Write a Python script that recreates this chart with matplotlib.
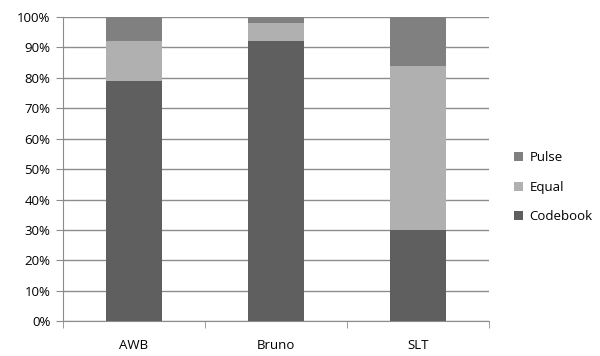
import numpy as np
import matplotlib
matplotlib.use("Agg")
import matplotlib.pyplot as plt
from matplotlib.ticker import FuncFormatter, MultipleLocator

categories = ["AWB", "Bruno", "SLT"]
codebook = [79, 92, 30]
equal = [13, 6, 54]
pulse = [8, 2, 16]

plt.rcParams['font.family'] = ['Open Sans', 'DejaVu Sans']

fig = plt.figure(figsize=(6, 3.56), dpi=100)
ax = fig.add_axes([0.105, 0.098, 0.71, 0.854])

x = np.arange(len(categories))
w = 0.39
b1 = ax.bar(x, codebook, w, color="#5f5f5f", label="Codebook", zorder=3)
b2 = ax.bar(x, equal, w, bottom=codebook, color="#b0b0b0", label="Equal", zorder=3)
bottom2 = np.array(codebook) + np.array(equal)
b3 = ax.bar(x, pulse, w, bottom=bottom2, color="#808080", label="Pulse", zorder=3)

ax.set_xlim(-0.5, len(categories) - 0.5)
ax.set_ylim(0, 100)
ax.yaxis.set_major_locator(MultipleLocator(10))
ax.yaxis.set_major_formatter(FuncFormatter(lambda v, p: f"{int(v)}%"))
ax.grid(axis="y", color="#8c8c8c", linewidth=1, zorder=0)

ax.set_xticks(x)
ax.set_xticklabels(categories)
ax.set_xticks(np.arange(len(categories) + 1) - 0.5, minor=True)
ax.tick_params(axis="x", which="major", length=0, pad=13, labelsize=9.5)
ax.tick_params(axis="x", which="minor", length=5, color="#8c8c8c", direction="out")
ax.tick_params(axis="y", length=5, color="#8c8c8c", labelsize=9.5, pad=4)

for s in ["top", "right"]:
    ax.spines[s].set_visible(False)
for s in ["left", "bottom"]:
    ax.spines[s].set_color("#8c8c8c")

handles = [b3, b2, b1]
ax.legend(handles, ["Pulse", "Equal", "Codebook"], loc="center left",
          bbox_to_anchor=(1.03, 0.44), frameon=False, fontsize=9.5,
          handlelength=0.7, handleheight=0.7, labelspacing=1.25, handletextpad=0.5)

fig.savefig("out.png", dpi=100)
